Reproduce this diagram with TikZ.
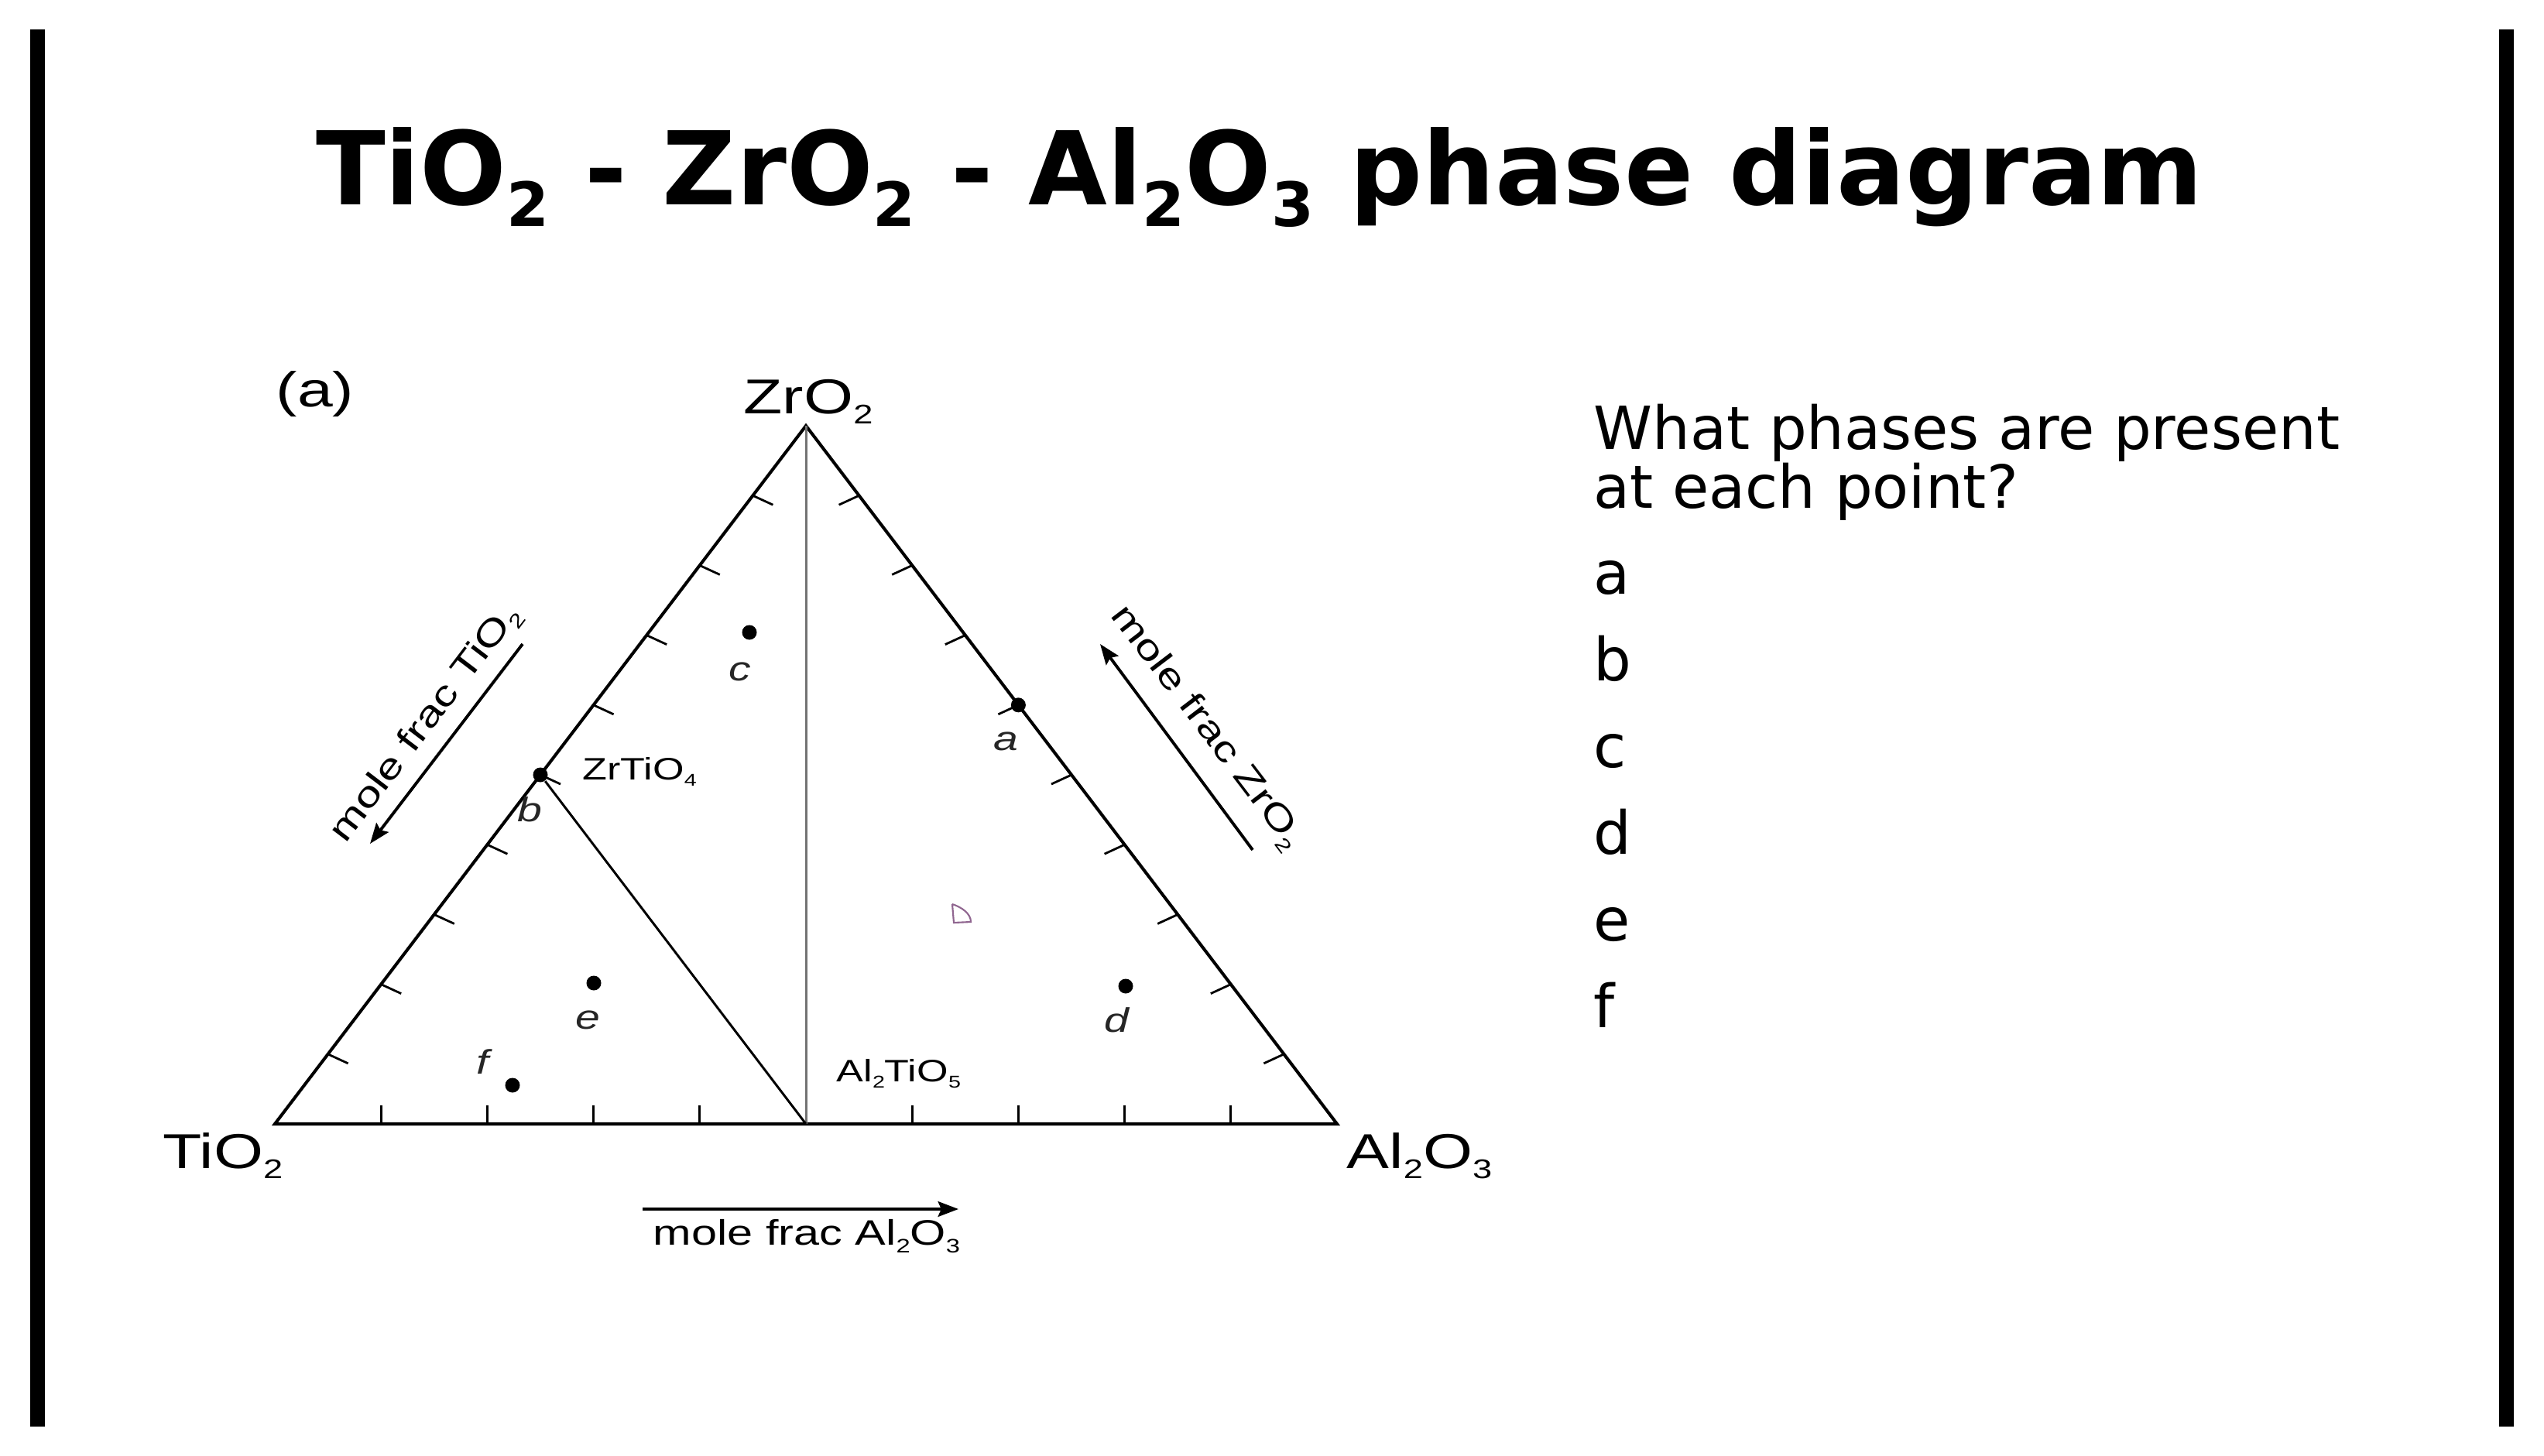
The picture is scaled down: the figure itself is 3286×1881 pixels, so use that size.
\documentclass[tikz,border=0pt]{standalone}
\usepackage{fontspec}
\setmainfont{DejaVu Sans}
\newfontfamily\lblfont[FakeStretch=1.3]{Liberation Sans}
\usetikzlibrary{arrows.meta,calc}
\makeatletter
\newcommand\sbs[2][0.6]{\raisebox{-0.22em}{\@tempdima=\f@size pt\relax
  \@tempdima=#1\@tempdima\fontsize{\strip@pt\@tempdima}{\strip@pt\@tempdima}\selectfont #2}}
\makeatother
\begin{document}
\begin{tikzpicture}[x=0.01cm,y=-0.01cm,
  edge/.style={line width=1.15pt,black},
  tickmark/.style={line width=0.8pt,black},
  tieline/.style={line width=0.85pt,black},
  grayline/.style={line width=0.85pt,black!55},
  arr/.style={line width=1.1pt,-{Stealth[length=7.5pt,width=5.6pt,inset=1.2pt]}},
  dot/.style={circle,fill=black,inner sep=0pt,minimum size=0.19cm},
  vlabel/.style={font=\lblfont\fontsize{18}{20}\selectfont,inner sep=0pt},
  slabel/.style={font=\lblfont\fontsize{11.4}{13}\selectfont,inner sep=0pt},
  axlabel/.style={font=\lblfont\fontsize{13}{15}\selectfont,inner sep=0pt},
  ptlabel/.style={font=\lblfont\itshape\fontsize{12.5}{14}\selectfont,inner sep=0pt,text=black!85},
  qtext/.style={font=\fontsize{21.85}{26}\selectfont,inner sep=0pt,anchor=base west},
  bar/.style={line width=0.19cm,black}
]
\useasboundingbox (0,0) rectangle (3286,1881);
\fill[white] (0,0) rectangle (3286,1881);

% side bars
\coordinate (bl1) at (48.5,38);
\coordinate (bl2) at (48.5,1843);
\coordinate (br1) at (3237,38);
\coordinate (br2) at (3237,1843);
\draw[bar] (bl1) -- (bl2);
\draw[bar] (br1) -- (br2);

% title
\node[anchor=base,inner sep=0pt] (title) at (1627,264)
  {\fontsize{37.4}{44}\selectfont\bfseries TiO\sbs{2} - ZrO\sbs{2} - Al\sbs{2}O\sbs{3} phase diagram};

% triangle
\coordinate (T) at (355,1452);
\coordinate (A) at (1727,1452);
\coordinate (Z) at (1041,550);
\coordinate (M) at ($(T)!0.5!(A)$);
\draw[edge] (T) -- (Z) -- (A) -- cycle;

% ticks
\foreach \i in {1,...,9} {
  \draw[tickmark] ($(T)!\i/10!(Z)$) -- ++(26,12);
  \draw[tickmark] ($(A)!\i/10!(Z)$) -- ++(-26,12);
}
\foreach \i in {1,2,3,4,6,7,8,9} {
  \draw[tickmark] ($(T)!\i/10!(A)$) -- ++(0,-24);
}

% inner lines
\draw[grayline] (Z) -- (M);
\node[dot] (b) at ($(T)!0.5!(Z)$) {};
\draw[tieline] (b) -- (M);

% points
\node[dot] (a) at ($(A)!0.6!(Z)$) {};
\node[dot] (c) at (968,817) {};
\node[dot] (e) at (767,1270) {};
\node[dot] (f) at (662,1402) {};
\node[dot] (d) at (1454,1274) {};

% point labels
\node[ptlabel] (la) at (1299,958) {a};
\node[ptlabel] (lb) at (684,1046) {b};
\node[ptlabel] (lc) at (956,868) {c};
\node[ptlabel] (ld) at (1442,1318) {d};
\node[ptlabel] (le) at (759,1318) {e};
\node[ptlabel] (lf) at (623,1372) {f};
\draw[line width=0.6pt,draw=black!45!violet!60] (1230,1168) -- (1232,1192) -- (1254,1191)
  .. controls (1254,1180) and (1242,1172) .. (1230,1168);

% compound labels
\node[slabel,anchor=base west] (zt) at (752,1007) {ZrTiO\sbs[0.55]{4}};
\node[slabel,anchor=base west] (at) at (1080,1397) {Al\sbs[0.55]{2}TiO\sbs[0.55]{5}};

% vertex labels
\node[vlabel,anchor=base west] (lZ) at (960,534) {ZrO\sbs[0.55]{2}};
\node[vlabel,anchor=base west] (lT) at (210,1509) {TiO\sbs[0.55]{2}};
\node[vlabel,anchor=base west] (lA) at (1739,1509) {Al\sbs[0.55]{2}O\sbs[0.55]{3}};
\node[vlabel,anchor=base west] (pa) at (356,525) {(a)};

% axis arrows
\coordinate (la1) at (675,832);
\coordinate (la2) at (478,1090);
\draw[arr] (la1) -- (la2);
\node[axlabel,rotate=52.7] (tla) at (550,935) {mole frac TiO\sbs[0.55]{2}};

\coordinate (ra1) at (1618,1098);
\coordinate (ra2) at (1421,832);
\draw[arr] (ra1) -- (ra2);
\node[axlabel,rotate=-52.7] (tra) at (1558,940) {mole frac ZrO\sbs[0.55]{2}};

\coordinate (ba1) at (830,1562);
\coordinate (ba2) at (1238,1562);
\draw[arr] (ba1) -- (ba2);
\node[axlabel,anchor=base] (tba) at (1042,1608) {mole frac Al\sbs[0.55]{2}O\sbs[0.55]{3}};

% question
\node[qtext] (q1) at (2058,580) {What phases are present};
\node[qtext] (q2) at (2058,656) {at each point?};
\node[qtext] (qa) at (2058,767) {a};
\node[qtext] (qb) at (2058,879) {b};
\node[qtext] (qc) at (2058,991) {c};
\node[qtext] (qd) at (2058,1103) {d};
\node[qtext] (qe) at (2058,1215) {e};
\node[qtext] (qf) at (2058,1327) {f};
\end{tikzpicture}
\end{document}
